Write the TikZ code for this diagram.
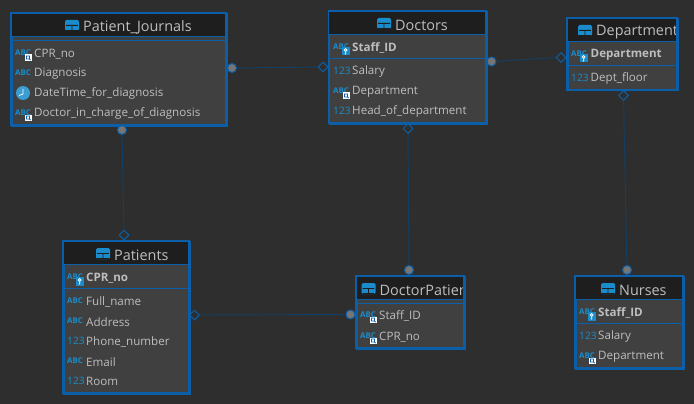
\documentclass[tikz,border=0pt]{standalone}
\usepackage{fontspec}
\setmainfont{Open Sans}
\usetikzlibrary{shapes.geometric}
\definecolor{canvasgray}{HTML}{2E2E2E}
\definecolor{bodygray}{HTML}{404040}
\definecolor{headblack}{HTML}{1E1E1E}
\definecolor{edgeblue}{HTML}{0A5FA8}
\definecolor{relblue}{HTML}{123F63}
\definecolor{iconblue}{HTML}{1A8CCB}
\definecolor{labelgray}{HTML}{BEBEBE}
\definecolor{dotgray}{HTML}{757575}
\tikzset{
    tablebox/.style={draw=edgeblue, line width=1.5pt, fill=bodygray, anchor=north west, inner sep=0pt},
    headtext/.style={text=labelgray, anchor=west, inner sep=0pt, font=\fontsize{14.4}{16}\selectfont},
    rowtext/.style={text=labelgray, anchor=west, inner sep=0pt, yshift=-0.85pt, font=\fontsize{11.6}{14}\selectfont},
    keytext/.style={rowtext, font=\fontsize{11.6}{14}\selectfont\bfseries},
    divider/.style={edgeblue, line width=0.9pt},
    relline/.style={relblue, line width=0.9pt},
    dotend/.style={circle, draw=edgeblue, line width=1pt, fill=dotgray, minimum size=9pt, inner sep=0pt},
    diaend/.style={diamond, draw=edgeblue, line width=1pt, fill=canvasgray, minimum size=10pt, inner sep=0pt},
    abctext/.style={text=iconblue, inner sep=0pt, anchor=west, font=\fontsize{7.9}{9}\selectfont\bfseries},
    numtext/.style={text=iconblue, inner sep=0pt, anchor=west, font=\fontsize{10.2}{12}\selectfont},
    abc/.pic={\node[abctext] (-t) at (0,0) {ABC};},
    num/.pic={\node[numtext] (-t) at (0,0) {123};},
    abcfk/.pic={
        \node[abctext] (-t) at (0,0) {ABC};
        \fill[white] (10,1.5) rectangle (16.5,8);
        \draw[edgeblue, line width=0.8pt] (11.5,3) rectangle (14.5,6) (14,5.5) -- (15.5,7);
    },
    abcpk/.pic={
        \node[abctext] (-t) at (0,0) {ABC};
        \fill[iconblue] (9,0) rectangle (16.5,8.5);
        \draw[white, line width=0.8pt] (12.7,3) circle (1.4pt) (12.7,4.4) -- (12.7,7) -- (11.5,7);
    },
    clock/.pic={
        \fill[iconblue!85!white] (8,0) circle (7pt);
        \draw[white, line width=0.8pt] (8,-4) -- (8,1) -- (4,2.5);
    },
    tableicon/.pic={
        \fill[iconblue, rounded corners=1.5pt] (0,0) rectangle (14,11);
        \fill[headblack] (1.2,5) rectangle (12.8,5.8) (6.6,5.8) rectangle (7.4,10);
        \fill[headblack] (1.2,9.6) rectangle (12.8,10.2);
    }
}
% one table: name, left, top, right, bottom, head bottom, divider, icon x, title
\newcommand{\tablebody}[9]{
    \node[tablebox, minimum width=#4pt-#2pt, minimum height=#5pt-#3pt] (#1) at (#2,#3) {};
    \fill[headblack] (#2,#3) rectangle (#4,#6);
    \draw[divider] (#2,#6) -- (#4,#6);
    \draw[divider] (#2,#7) -- (#4,#7);
    \pic at (#8,#3+7) {tableicon};
    \begin{scope}
        \clip (#2,#3) rectangle (#4,#6);
        \node[headtext] (#1-title) at (#8+18,#3+14) {#9};
    \end{scope}
    \draw[edgeblue, line width=1.5pt] (#2,#3) rectangle (#4,#5);
}

\begin{document}
\begin{tikzpicture}[x=1pt,y=-1pt]
    \useasboundingbox (0,0) rectangle (694,404);
    \fill[canvasgray] (0,0) rectangle (694,404);

    % tables
    \tablebody{journals}{11}{13}{226}{125}{36}{40.5}{65}{Patient\_Journals}
    \foreach \rowy/\rowicon/\rowname in {53/abcfk/CPR\_no, 73/abc/Diagnosis, 93/clock/DateTime\_for\_diagnosis, 113/abcfk/Doctor\_in\_charge\_of\_diagnosis}{
        \pic (jicon\rowy) at (15,\rowy) {\rowicon};
        \node[rowtext] (jrow\rowy) at (34,\rowy) {\rowname};
    }

    \tablebody{doctors}{328.5}{11}{486}{123}{34}{58}{377}{Doctors}
    \pic (dicon47) at (333,47) {abcpk};
    \node[keytext] (drow47) at (352,47) {Staff\_ID};
    \foreach \rowy/\rowicon/\rowname in {71/num/Salary, 91/abcfk/Department, 111/num/Head\_of\_department}{
        \pic (dicon\rowy) at (333,\rowy) {\rowicon};
        \node[rowtext] (drow\rowy) at (352,\rowy) {\rowname};
    }

    \tablebody{department}{567}{18}{677}{90}{41}{65.5}{578}{Department}
    \pic (picon54) at (571,54) {abcpk};
    \node[keytext] (prow54) at (590.5,54) {Department};
    \pic (picon78) at (571,78) {num};
    \node[rowtext] (prow78) at (590.5,78) {Dept\_floor};

    \tablebody{patients}{63}{241}{189}{393}{264}{288}{96}{Patients}
    \pic (aicon277) at (67,277) {abcpk};
    \node[keytext] (arow277) at (86,277) {CPR\_no};
    \foreach \rowy/\rowicon/\rowname in {301/abc/Full\_name, 321/abc/Address, 341/num/Phone\_number, 361/abc/Email, 381/num/Room}{
        \pic (aicon\rowy) at (67,\rowy) {\rowicon};
        \node[rowtext] (arow\rowy) at (86,\rowy) {\rowname};
    }

    \tablebody{doctorpatients}{356}{276}{464}{348}{299}{303}{361.5}{DoctorPatients}
    \foreach \rowy/\rowname in {315/Staff\_ID, 336/CPR\_no}{
        \pic (bicon\rowy) at (360,\rowy) {abcfk};
        \node[rowtext] (brow\rowy) at (379,\rowy) {\rowname};
    }

    \tablebody{nurses}{575}{276}{683}{368}{299}{323}{601}{Nurses}
    \pic (nicon312) at (579,312) {abcpk};
    \node[keytext] (nrow312) at (598,312) {Staff\_ID};
    \pic (nicon336) at (579,336) {num};
    \node[rowtext] (nrow336) at (598,336) {Salary};
    \pic (nicon356) at (579,356) {abcfk};
    \node[rowtext] (nrow356) at (598,356) {Department};

    % relations
    \node[dotend] (jdot1) at (232,68) {};
    \node[diaend] (ddia1) at (323,67) {};
    \node[dotend] (ddot1) at (491.5,61.5) {};
    \node[diaend] (pdia1) at (561,57.5) {};
    \node[dotend] (jdot2) at (122,130) {};
    \node[diaend] (adia1) at (124,235) {};
    \node[diaend] (ddia2) at (408,128.5) {};
    \node[dotend] (bdot1) at (409,270) {};
    \node[diaend] (pdia2) at (623.5,95.5) {};
    \node[dotend] (ndot1) at (627,270) {};
    \node[diaend] (adia2) at (194.5,315) {};
    \node[dotend] (bdot2) at (350.5,314.5) {};

    \draw[relline] (jdot1) -- (ddia1);
    \draw[relline] (ddot1) -- (pdia1);
    \draw[relline] (jdot2) -- (adia1);
    \draw[relline] (ddia2) -- (bdot1);
    \draw[relline] (pdia2) -- (ndot1);
    \draw[relline] (adia2) -- (bdot2);
\end{tikzpicture}
\end{document}
